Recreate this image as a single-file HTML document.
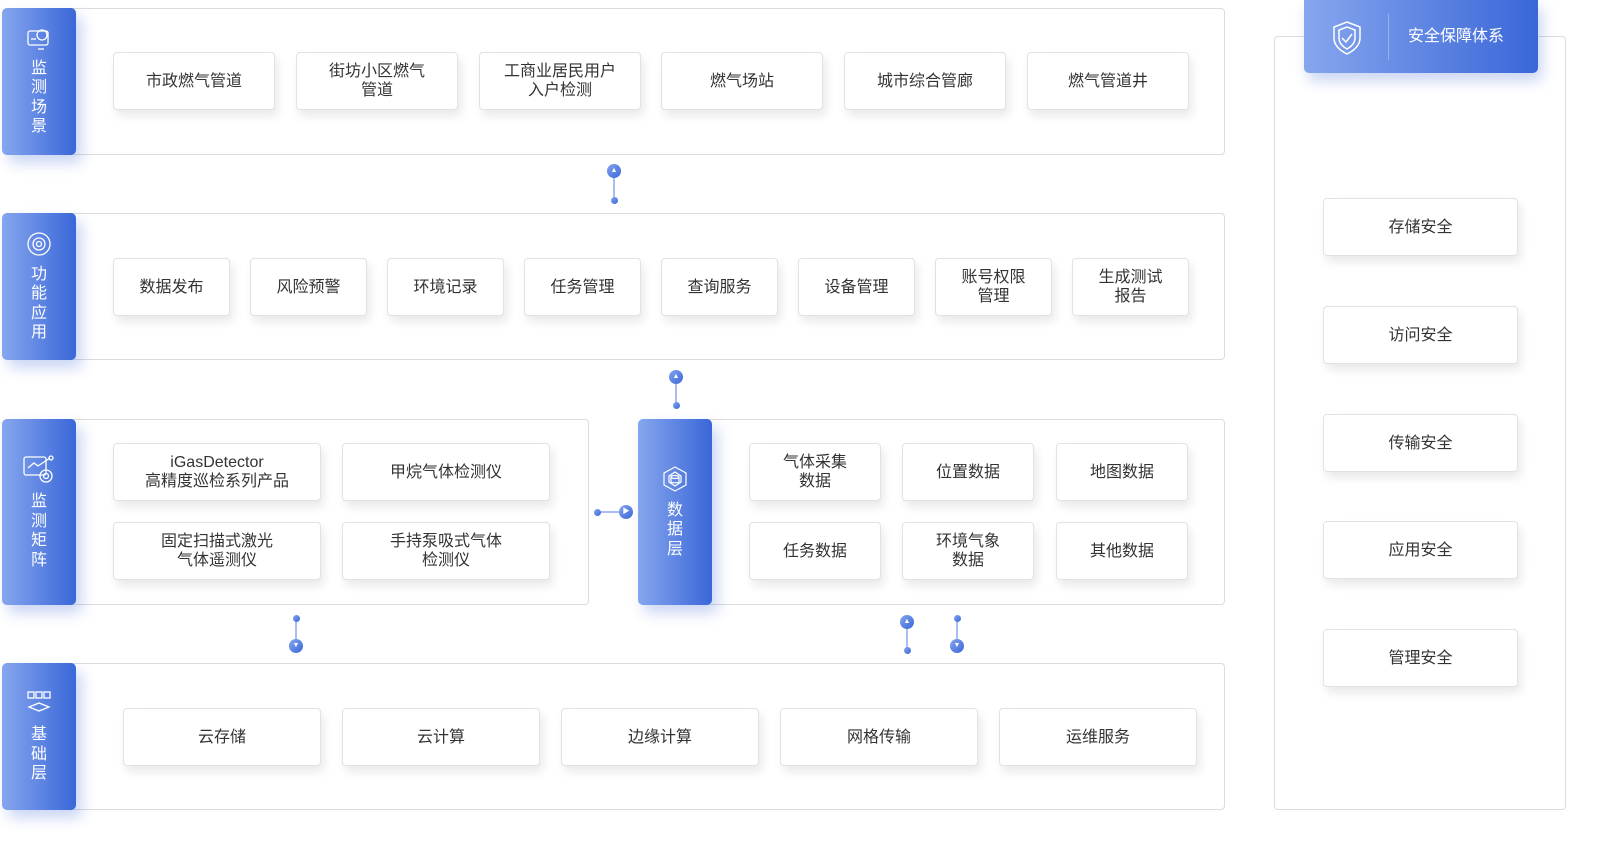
<!DOCTYPE html>
<html><head><meta charset="utf-8"><style>
*{margin:0;padding:0;box-sizing:border-box}
body{width:1602px;height:844px;background:#fff;position:relative;overflow:hidden;font-family:"Liberation Sans","Noto Sans CJK SC",sans-serif}
.sec{position:absolute;border:1px solid #dcdcdc;border-radius:4px;background:#fff}
.side{position:absolute;width:74px;border-radius:5px;background:linear-gradient(90deg,#86a6ee,#3a67d8);box-shadow:6px 8px 14px rgba(80,120,220,.3);color:#fff;font-size:16px;line-height:19.5px;text-align:center;display:flex;flex-direction:column;align-items:center;justify-content:center}
.side svg{margin-bottom:8px}
.it{position:absolute;height:58px;border:1px solid #e2e2e2;border-radius:4px;background:#fff;box-shadow:3px 6px 10px rgba(0,0,0,.09);display:flex;align-items:center;justify-content:center;text-align:center;font-size:16px;line-height:19px;color:#333}
.c{position:absolute;border-radius:50%;background:linear-gradient(135deg,#86a6ee,#3a67d8)}
.ln{position:absolute;background:#a9bdf0}
.big{width:14px;height:14px;color:#fff;font-size:7px;line-height:14px;text-align:center}
.sm{width:7px;height:7px}
</style></head><body>

<div class="sec" style="left:40px;top:8px;width:1185px;height:147px"></div>
<div class="sec" style="left:40px;top:213px;width:1185px;height:147px"></div>
<div class="sec" style="left:40px;top:419px;width:549px;height:186px"></div>
<div class="sec" style="left:680px;top:419px;width:545px;height:186px"></div>
<div class="sec" style="left:40px;top:663px;width:1185px;height:147px"></div>
<div class="sec" style="left:1274px;top:36px;width:292px;height:774px"></div>

<div class="side" style="left:2px;top:8px;height:147px">
<svg width="26" height="24" viewBox="0 0 26 24" fill="none" stroke="#fff" stroke-width="1.3"><rect x="2" y="4" width="20" height="14" rx="2"/><circle cx="16" cy="8" r="5"/><line x1="12" y1="22" x2="18" y2="22"/><line x1="5" y1="12" x2="10" y2="12"/></svg>
<div>监<br>测<br>场<br>景</div></div>
<div class="side" style="left:2px;top:213px;height:147px">
<svg width="26" height="26" viewBox="0 0 26 26" fill="none" stroke="#fff" stroke-width="1.3"><circle cx="13" cy="13" r="11"/><circle cx="13" cy="13" r="6"/><circle cx="13" cy="13" r="2.5"/></svg>
<div>功<br>能<br>应<br>用</div></div>
<div class="side" style="left:2px;top:419px;height:186px">
<svg width="34" height="30" viewBox="0 0 34 30" fill="none" stroke="#fff" stroke-width="1.3"><rect x="2" y="3" width="22" height="18" rx="2"/><polyline points="6,14 12,9 16,12 28,4"/><circle cx="29" cy="4" r="2"/><circle cx="24" cy="22" r="6"/><circle cx="24" cy="22" r="2.5"/></svg>
<div>监<br>测<br>矩<br>阵</div></div>
<div class="side" style="left:2px;top:663px;height:147px">
<svg width="28" height="28" viewBox="0 0 28 28" fill="none" stroke="#fff" stroke-width="1.3"><rect x="3" y="3" width="6" height="6"/><rect x="11" y="3" width="6" height="6"/><rect x="19" y="3" width="6" height="6"/><path d="M4 18 L14 14 L24 18 L14 22 Z"/></svg>
<div>基<br>础<br>层</div></div>
<div class="side" style="left:638px;top:419px;height:186px">
<svg width="28" height="28" viewBox="0 0 28 28" fill="none" stroke="#fff" stroke-width="1.2"><polygon points="14,2 25,8 25,20 14,26 3,20 3,8"/><polygon points="14,7 20,11 20,17 14,21 8,17 8,11"/><ellipse cx="14" cy="12" rx="4" ry="1.5"/><path d="M10 12v5c0 1 8 1 8 0v-5"/></svg>
<div>数<br>据<br>层</div></div>

<!-- row1 -->
<div class="it" style="left:113px;top:52px;width:162px">市政燃气管道</div>
<div class="it" style="left:296px;top:52px;width:162px">街坊小区燃气<br>管道</div>
<div class="it" style="left:479px;top:52px;width:162px">工商业居民用户<br>入户检测</div>
<div class="it" style="left:661px;top:52px;width:162px">燃气场站</div>
<div class="it" style="left:844px;top:52px;width:162px">城市综合管廊</div>
<div class="it" style="left:1027px;top:52px;width:162px">燃气管道井</div>
<!-- row2 -->
<div class="it" style="left:113px;top:258px;width:117px">数据发布</div>
<div class="it" style="left:250px;top:258px;width:117px">风险预警</div>
<div class="it" style="left:387px;top:258px;width:117px">环境记录</div>
<div class="it" style="left:524px;top:258px;width:117px">任务管理</div>
<div class="it" style="left:661px;top:258px;width:117px">查询服务</div>
<div class="it" style="left:798px;top:258px;width:117px">设备管理</div>
<div class="it" style="left:935px;top:258px;width:117px">账号权限<br>管理</div>
<div class="it" style="left:1072px;top:258px;width:117px">生成测试<br>报告</div>
<!-- row3 -->
<div class="it" style="left:113px;top:443px;width:208px">iGasDetector<br>高精度巡检系列产品</div>
<div class="it" style="left:342px;top:443px;width:208px">甲烷气体检测仪</div>
<div class="it" style="left:113px;top:522px;width:208px">固定扫描式激光<br>气体遥测仪</div>
<div class="it" style="left:342px;top:522px;width:208px">手持泵吸式气体<br>检测仪</div>
<div class="it" style="left:749px;top:443px;width:132px">气体采集<br>数据</div>
<div class="it" style="left:902px;top:443px;width:132px">位置数据</div>
<div class="it" style="left:1056px;top:443px;width:132px">地图数据</div>
<div class="it" style="left:749px;top:522px;width:132px">任务数据</div>
<div class="it" style="left:902px;top:522px;width:132px">环境气象<br>数据</div>
<div class="it" style="left:1056px;top:522px;width:132px">其他数据</div>
<!-- row4 -->
<div class="it" style="left:123px;top:708px;width:198px">云存储</div>
<div class="it" style="left:342px;top:708px;width:198px">云计算</div>
<div class="it" style="left:561px;top:708px;width:198px">边缘计算</div>
<div class="it" style="left:780px;top:708px;width:198px">网格传输</div>
<div class="it" style="left:999px;top:708px;width:198px">运维服务</div>
<!-- right -->
<div class="it" style="left:1323px;top:198px;width:195px">存储安全</div>
<div class="it" style="left:1323px;top:306px;width:195px">访问安全</div>
<div class="it" style="left:1323px;top:414px;width:195px">传输安全</div>
<div class="it" style="left:1323px;top:521px;width:195px">应用安全</div>
<div class="it" style="left:1323px;top:629px;width:195px">管理安全</div>

<div style="position:absolute;left:1304px;top:0;width:234px;height:73px;border-radius:0 0 5px 5px;background:linear-gradient(90deg,#86a6ee,#3a67d8);box-shadow:4px 8px 14px rgba(80,120,220,.3)">
<svg style="position:absolute;left:27px;top:20px" width="32" height="36" viewBox="0 0 32 36" fill="none" stroke="#fff" stroke-width="1.5"><path d="M16 2 L29 7 V18 C29 26 22 31 16 34 C10 31 3 26 3 18 V7 Z"/><path d="M16 7 L24 10 V18 C24 23 20 27 16 29 C12 27 8 23 8 18 V10 Z"/><polyline points="11,18 15,22 21,14"/></svg>
<div style="position:absolute;left:84px;top:14px;width:1px;height:46px;background:rgba(255,255,255,.3)"></div>
<div style="position:absolute;left:104px;top:27px;color:#fff;font-size:16px;line-height:20px">安全保障体系</div>
</div>

<!-- connectors -->
<div class="ln" style="left:613px;top:171px;width:2px;height:29px"></div>
<div class="c big" style="left:607px;top:164px">▲</div>
<div class="c sm" style="left:611px;top:197px"></div>

<div class="ln" style="left:675px;top:377px;width:2px;height:28px"></div>
<div class="c big" style="left:669px;top:370px">▲</div>
<div class="c sm" style="left:673px;top:402px"></div>

<div class="ln" style="left:597px;top:511px;width:29px;height:2px"></div>
<div class="c sm" style="left:594px;top:509px"></div>
<div class="c big" style="left:619px;top:505px">▶</div>

<div class="ln" style="left:295px;top:618px;width:2px;height:28px"></div>
<div class="c sm" style="left:293px;top:615px"></div>
<div class="c big" style="left:289px;top:639px">▼</div>

<div class="ln" style="left:906px;top:622px;width:2px;height:28px"></div>
<div class="c big" style="left:900px;top:615px">▲</div>
<div class="c sm" style="left:904px;top:647px"></div>

<div class="ln" style="left:956px;top:618px;width:2px;height:28px"></div>
<div class="c sm" style="left:954px;top:615px"></div>
<div class="c big" style="left:950px;top:639px">▼</div>
</body></html>
